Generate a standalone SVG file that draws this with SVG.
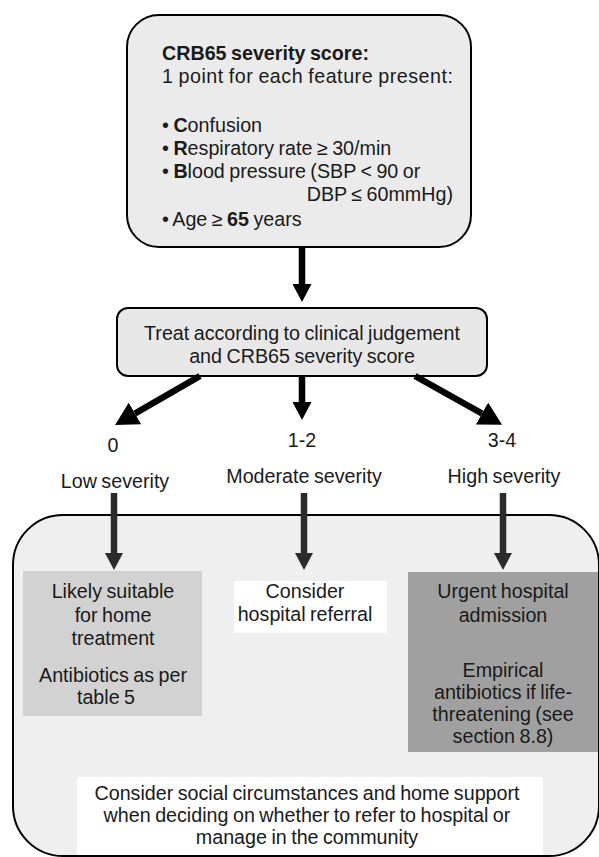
<svg xmlns="http://www.w3.org/2000/svg" width="599" height="857" viewBox="0 0 599 857">
  <style>
    text { font-family: "Liberation Sans", Arial, sans-serif; font-size: 19.7px; word-spacing: -1px; fill: #1a1a1a; }
    .c { text-anchor: middle; }
    .b { font-weight: bold; }
    .arrow { stroke: #000; stroke-width: 6.5; fill: none; }
    .garrow { stroke: #2b2b2b; stroke-width: 6.5; fill: none; }
  </style>
  <defs>
    <marker id="head" markerUnits="userSpaceOnUse" markerWidth="18" markerHeight="19" viewBox="0 0 18 19" refX="0" refY="9.5" orient="auto">
      <path d="M0,0 L18,9.5 L0,19 z" fill="#000"/>
    </marker>
    <marker id="bighead" markerUnits="userSpaceOnUse" markerWidth="23" markerHeight="25" viewBox="0 0 23 25" refX="0" refY="12.5" orient="auto">
      <path d="M0,0 L23,12.5 L0,25 z" fill="#000"/>
    </marker>
    <marker id="ghead" markerUnits="userSpaceOnUse" markerWidth="17" markerHeight="18" viewBox="0 0 17 18" refX="0" refY="9" orient="auto">
      <path d="M0,0 L17,9 L0,18 z" fill="#2b2b2b"/>
    </marker>
  </defs>

  <g id="region">
    <rect x="13" y="515" width="586" height="341" rx="50" ry="50" fill="#efefef" stroke="#000" stroke-width="2"/>
  </g>

  <g id="crb65">
    <rect x="127" y="15" width="344" height="232" rx="32" ry="32" fill="#ebebeb" stroke="#000" stroke-width="2"/>
    <text class="b" x="162" y="60">CRB65 severity score:</text>
    <text x="162" y="83" textLength="291" lengthAdjust="spacing">1 point for each feature present:</text>
    <text x="162" y="132">• <tspan class="b">C</tspan>onfusion</text>
    <text x="162" y="155">• <tspan class="b">R</tspan>espiratory rate ≥ 30/min</text>
    <text x="162" y="178">• <tspan class="b">B</tspan>lood pressure (SBP &lt; 90 or</text>
    <text x="453" y="201" text-anchor="end">DBP ≤ 60mmHg)</text>
    <text x="162" y="226">• Age ≥ <tspan class="b">65</tspan> years</text>
  </g>

  <g id="treat">
    <rect x="117" y="308" width="370" height="68" rx="11" ry="11" fill="#e8e8e8" stroke="#000" stroke-width="2"/>
    <text class="c" x="302" y="340">Treat according to clinical judgement</text>
    <text class="c" x="302" y="363">and CRB65 severity score</text>
  </g>

  <g id="labels">
    <text class="c" x="113" y="452">0</text>
    <text class="c" x="302" y="447">1-2</text>
    <text class="c" x="502" y="447">3-4</text>
    <text class="c" x="115" y="488">Low severity</text>
    <text class="c" x="304" y="483">Moderate severity</text>
    <text class="c" x="504" y="483">High severity</text>
  </g>

  <g id="low">
    <rect x="23" y="571" width="179" height="145" fill="#d2d2d2"/>
    <text class="c" x="113" y="598">Likely suitable</text>
    <text class="c" x="113" y="622">for home</text>
    <text class="c" x="113" y="645">treatment</text>
    <text class="c" x="113" y="682">Antibiotics as per</text>
    <text class="c" x="106" y="704">table 5</text>
  </g>

  <g id="moderate">
    <rect x="234" y="581" width="153" height="52" fill="#ffffff"/>
    <text class="c" x="305" y="598">Consider</text>
    <text class="c" x="305" y="621">hospital referral</text>
  </g>

  <g id="high">
    <rect x="408" y="572" width="190" height="180" fill="#a0a0a0"/>
    <text class="c" x="503" y="598">Urgent hospital</text>
    <text class="c" x="503" y="622">admission</text>
    <text class="c" x="503" y="677">Empirical</text>
    <text class="c" x="503" y="699">antibiotics if life-</text>
    <text class="c" x="503" y="721">threatening (see</text>
    <text class="c" x="503" y="743">section 8.8)</text>
  </g>

  <g id="social">
    <rect x="77" y="777" width="466" height="78" fill="#ffffff"/>
    <text class="c" x="307" y="800">Consider social circumstances and home support</text>
    <text class="c" x="307" y="822">when deciding on whether to refer to hospital or</text>
    <text class="c" x="307" y="844">manage in the community</text>
  </g>

  <g id="connectors">
    <line class="arrow" x1="302" y1="247" x2="302" y2="284" marker-end="url(#head)"/>
    <line class="arrow" x1="302" y1="376" x2="302" y2="402" marker-end="url(#head)"/>
    <line class="arrow" x1="200" y1="376" x2="135" y2="413.5" marker-end="url(#bighead)"/>
    <line class="arrow" x1="415" y1="376" x2="482" y2="413.5" marker-end="url(#bighead)"/>
    <line class="garrow" x1="114" y1="493" x2="114" y2="553" marker-end="url(#ghead)"/>
    <line class="garrow" x1="304" y1="493" x2="304" y2="553" marker-end="url(#ghead)"/>
    <line class="garrow" x1="503" y1="493" x2="503" y2="553" marker-end="url(#ghead)"/>
  </g>
</svg>
